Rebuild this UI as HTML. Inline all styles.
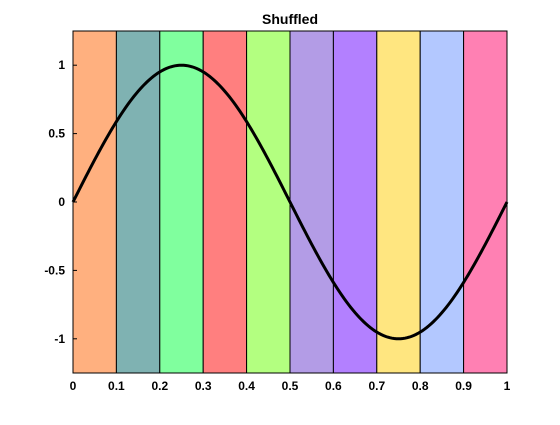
<!DOCTYPE html>
<html><head><meta charset="utf-8"><style>
body{margin:0;background:#fff;}
svg text{font-family:"Liberation Sans",Arial,sans-serif;font-weight:bold;font-size:12px;fill:#000;}
</style></head><body>
<svg id="chart" width="560" height="420">
<text x="290" y="24" text-anchor="middle" style="font-size:14px">Shuffled</text>
<g id="bands"></g><g id="axes"></g><path id="curve" fill="none" stroke="#000" stroke-width="3"/>
</svg>
<script>
const bandStarts=[0,0.1,0.2,0.3,0.4,0.5,0.6,0.7,0.8,0.9];
const bandColors=["#ffb07f","#7fb2b2","#80ff9e","#ff7f7f","#b3ff80","#b39ce6","#b380ff","#ffe680","#b3c8ff","#ff80b3"];
const xTicks=[0,0.1,0.2,0.3,0.4,0.5,0.6,0.7,0.8,0.9,1];
const xTickLabels=["0","0.1","0.2","0.3","0.4","0.5","0.6","0.7","0.8","0.9","1"];
const yTicks=[-1,-0.5,0,0.5,1];
const yTickLabels=["-1","-0.5","0","0.5","1"];
const curveX=[];const curveY=[];
for(let i=0;i<=200;i++){const t=i/200;curveX.push(t);curveY.push(Math.sin(2*Math.PI*t));}
const L=73,R=507,T=31,B=373;
const sx=v=>L+v*(R-L);
const sy=v=>(T+B)/2-v*(B-T)/2.5;
const NS="http://www.w3.org/2000/svg";
const bands=document.getElementById('bands'),axes=document.getElementById('axes');
bandStarts.forEach((s,i)=>{const r=document.createElementNS(NS,'rect');
r.setAttribute('x',sx(s));r.setAttribute('y',T);r.setAttribute('width',sx(s+0.1)-sx(s));r.setAttribute('height',B-T);
r.setAttribute('fill',bandColors[i]);r.setAttribute('stroke','#000');r.setAttribute('stroke-width','1');


bands.appendChild(r);});
const box=document.createElementNS(NS,'rect');
box.setAttribute('x',L);box.setAttribute('y',T);box.setAttribute('width',R-L);box.setAttribute('height',B-T);box.setAttribute('fill','none');box.setAttribute('stroke','#000');


axes.appendChild(box);
xTicks.forEach((v,i)=>{const t=document.createElementNS(NS,'text');t.setAttribute('x',sx(v));t.setAttribute('y',B+17);t.setAttribute('text-anchor','middle');t.textContent=xTickLabels[i];


axes.appendChild(t);});
yTicks.forEach((v,i)=>{const t=document.createElementNS(NS,'text');t.setAttribute('x',L-8);t.setAttribute('y',sy(v)+4);t.setAttribute('text-anchor','end');t.textContent=yTickLabels[i];


axes.appendChild(t);
const k=document.createElementNS(NS,'line');k.setAttribute('x1',L);k.setAttribute('x2',L+4);k.setAttribute('y1',sy(v));k.setAttribute('y2',sy(v));k.setAttribute('stroke','#000');


axes.appendChild(k);});
document.getElementById('curve').setAttribute('d',curveX.map((x,i)=>(i?'L':'M')+sx(x).toFixed(2)+','+sy(curveY[i]).toFixed(2)).join(''));
</script>
</body></html>
